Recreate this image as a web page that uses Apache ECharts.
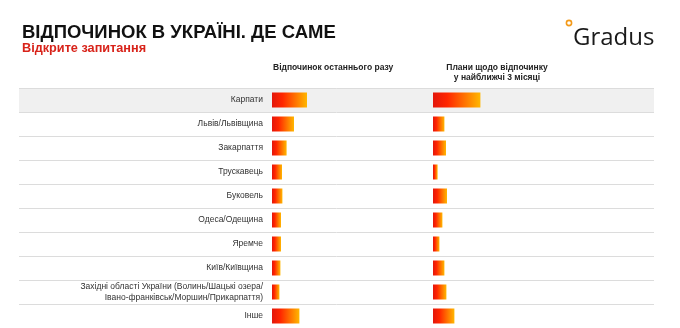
<!DOCTYPE html>
<html>
<head>
<meta charset="utf-8">
<script src="https://cdn.jsdelivr.net/npm/echarts@6/dist/echarts.min.js"></script>
<style>
html,body{margin:0;padding:0;background:#fff;}
#chart{width:680px;height:328px;}
</style>
</head>
<body>
<div id="chart"></div>
<script>
const titleText = 'ВІДПОЧИНОК В УКРАЇНІ. ДЕ САМЕ';
const subtitleText = 'Відкрите запитання';
const headerLast = 'Відпочинок останнього разу';
const headerPlan = 'Плани щодо відпочинку\nу найближчі 3 місяці';
const categories = [
  'Карпати',
  'Львів/Львівщина',
  'Закарпаття',
  'Трускавець',
  'Буковель',
  'Одеса/Одещина',
  'Яремче',
  'Київ/Київщина',
  'Західні області України (Волинь/Шацькі озера/\nІвано-франківськ/Моршин/Прикарпаття)',
  'Інше'
];
// values (relative units)
const lastTimeValues = [17.5, 11, 7.3, 5, 5.2, 4.5, 4.5, 4.2, 3.7, 13.7];
const planValues = [23.7, 5.7, 6.5, 2.3, 7, 4.7, 3.2, 5.7, 6.7, 10.7];

const barGradient = new echarts.graphic.LinearGradient(0, 0, 1, 0, [
  {offset: 0, color: '#e3160b'},
  {offset: 0.3, color: '#ff2600'},
  {offset: 1, color: '#ffb700'}
]);

const FONT = '"Liberation Sans", Arial, sans-serif';
const chart = echarts.init(document.getElementById('chart'), null, {renderer: 'canvas'});
const bandColors = categories.map((c, i) => i === 0 ? '#f0f0f0' : 'rgba(255,255,255,0)');

chart.setOption({
  animation: false,
  backgroundColor: '#fff',
  title: [
    {text: titleText, left: 22, top: 23, padding: 0, textStyle: {fontFamily: FONT, fontSize: 18.5, fontWeight: 'bold', color: '#111'}},
    {text: subtitleText, left: 22, top: 42, padding: 0, textStyle: {fontFamily: FONT, fontSize: 12.7, fontWeight: 'bold', color: '#d8231a'}},
    {text: headerLast, left: 273, top: 63, padding: 0, textStyle: {fontFamily: FONT, fontSize: 8.5, fontWeight: 'bold', color: '#222'}},
    {text: headerPlan, left: 497, top: 62, padding: 0, textAlign: 'center', textStyle: {fontFamily: FONT, fontSize: 8.5, fontWeight: 'bold', color: '#222', lineHeight: 10.5, align: 'center'}},
    {text: 'Gradus', left: 573, top: 26, padding: 0, textStyle: {fontFamily: '"Open Sans", ' + FONT, fontSize: 24, fontWeight: 'normal', color: '#1a1a1a'}}
  ],
  graphic: [
    {type: 'circle', shape: {cx: 569, cy: 23, r: 2.6}, style: {fill: 'none', stroke: '#f39a1a', lineWidth: 1.6}}
  ],
  grid: [
    {left: 19, right: 26, top: 88, height: 242},
    {left: 272, width: 150, top: 88, height: 242},
    {left: 433, width: 220, top: 88, height: 242}
  ],
  xAxis: [
    {gridIndex: 0, type: 'value', min: 0, max: 1, show: false},
    {gridIndex: 1, type: 'value', min: 0, max: 75, show: false},
    {gridIndex: 2, type: 'value', min: 0, max: 110, show: false}
  ],
  yAxis: [
    {gridIndex: 0, type: 'category', inverse: true, data: categories,
     axisLine: {show: false}, axisTick: {show: false}, axisLabel: {show: false},
     splitLine: {show: true, lineStyle: {color: '#dcdcdc', width: 1}},
     splitArea: {show: true, areaStyle: {color: bandColors}}},
    {gridIndex: 1, type: 'category', inverse: true, data: categories,
     axisLine: {show: false}, axisTick: {show: false},
     axisLabel: {margin: 9, fontFamily: FONT, fontSize: 8.5, color: '#333', lineHeight: 11, align: 'right'}},
    {gridIndex: 2, type: 'category', inverse: true, data: categories,
     axisLine: {show: false}, axisTick: {show: false}, axisLabel: {show: false}}
  ],
  series: [
    {type: 'bar', xAxisIndex: 1, yAxisIndex: 1, data: lastTimeValues, barWidth: 15,
     itemStyle: {color: barGradient}, silent: true},
    {type: 'bar', xAxisIndex: 2, yAxisIndex: 2, data: planValues, barWidth: 15,
     itemStyle: {color: barGradient}, silent: true}
  ]
});
</script>
</body>
</html>
